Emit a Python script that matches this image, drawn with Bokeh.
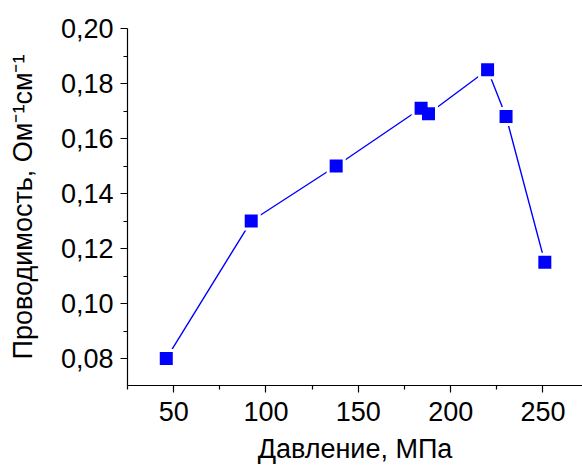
from bokeh.plotting import figure
from bokeh.models import Range1d, FixedTicker, CustomJSTickFormatter, ColumnDataSource
from bokeh.embed import file_html
from bokeh.resources import INLINE

pressure = [46, 92, 138, 184, 188, 220, 230, 251]
conductivity = [0.080, 0.130, 0.150, 0.171, 0.169, 0.185, 0.168, 0.115]

x_ticks = [50, 100, 150, 200, 250]
x_minor = [25, 75, 125, 175, 225, 275]
y_ticks = [0.08, 0.10, 0.12, 0.14, 0.16, 0.18, 0.20]
y_minor = [0.07, 0.09, 0.11, 0.13, 0.15, 0.17, 0.19]

x_label = "Давление, МПа"
y_label = "Проводимость, Ом\u207b\u00b9см\u207b\u00b9"

FONT = "Liberation Sans"

p = figure(width=582, height=466, output_backend="svg", toolbar_location=None,
           x_range=Range1d(25, 271.4), y_range=Range1d(0.0702, 0.20),
           min_border_left=127, min_border_right=0, min_border_top=28, min_border_bottom=81)
p.outline_line_color = None
p.xgrid.visible = False
p.ygrid.visible = False
p.background_fill_color = "white"
p.border_fill_color = "white"

src = ColumnDataSource(dict(x=pressure, y=conductivity))
p.line("x", "y", source=src, line_color="#0000FF", line_width=1.4)
p.scatter("x", "y", source=src, marker="square", size=19, fill_color="white", line_color=None)
p.scatter("x", "y", source=src, marker="square", size=13, fill_color="#0000FF", line_color=None)

fmt = CustomJSTickFormatter(code="return tick.toFixed(2).replace('.', ',');")

for ax in (p.xaxis[0], p.yaxis[0]):
    ax.axis_line_color = "black"
    ax.axis_line_width = 1.2
    ax.major_tick_line_color = "black"
    ax.minor_tick_line_color = "black"
    ax.major_tick_line_width = 1.2
    ax.minor_tick_line_width = 1.2
    ax.major_tick_in = 0
    ax.major_tick_out = 7
    ax.minor_tick_in = 0
    ax.minor_tick_out = 4
    ax.major_label_text_font = FONT
    ax.major_label_text_font_size = "27px"
    ax.major_label_text_color = "black"
    ax.axis_label_text_font = FONT
    ax.axis_label_text_font_size = "27px"
    ax.axis_label_text_font_style = "normal"
    ax.axis_label_text_color = "black"

p.xaxis[0].ticker = FixedTicker(ticks=x_ticks, minor_ticks=x_minor)
p.yaxis[0].ticker = FixedTicker(ticks=y_ticks, minor_ticks=y_minor)
p.yaxis[0].formatter = fmt
p.xaxis[0].axis_label = x_label
p.yaxis[0].axis_label = y_label
p.xaxis[0].major_label_standoff = 9
p.yaxis[0].major_label_standoff = 7
p.xaxis[0].axis_label_standoff = 10
p.xaxis[0].axis_label_text_line_height = 0.9
p.yaxis[0].axis_label_standoff = 20

open("out.html", "w").write(file_html(p, INLINE))
